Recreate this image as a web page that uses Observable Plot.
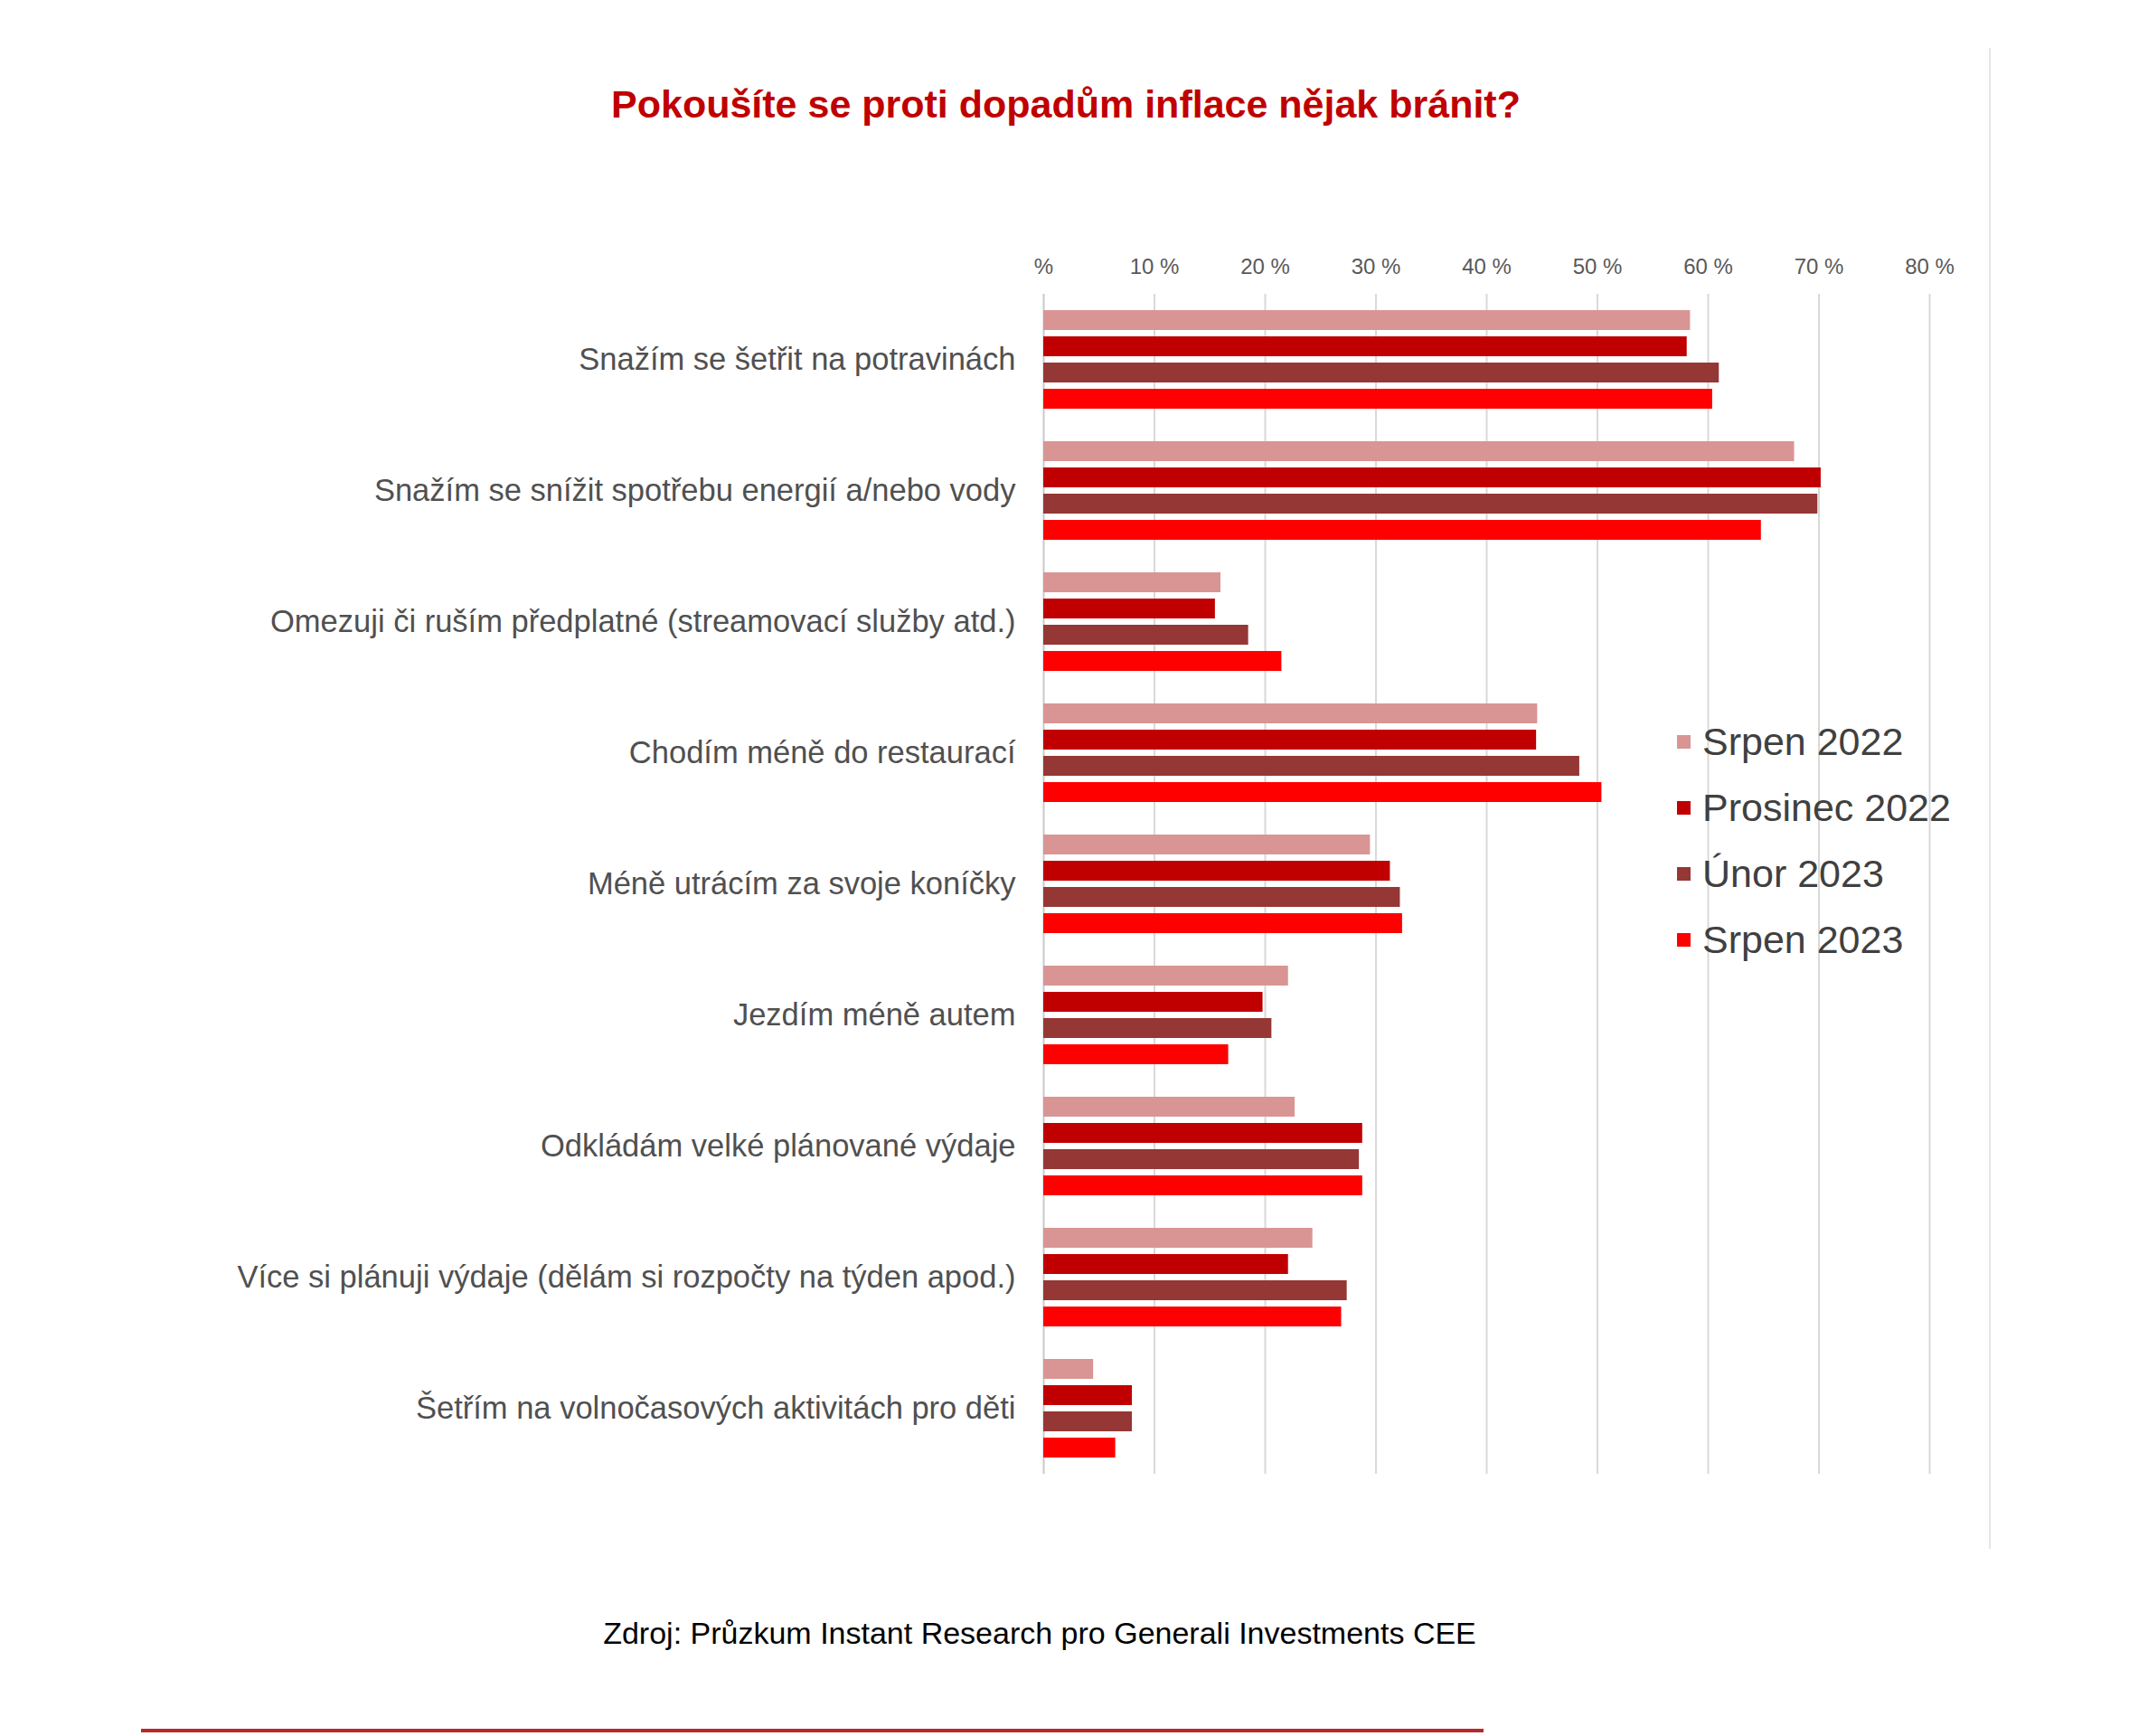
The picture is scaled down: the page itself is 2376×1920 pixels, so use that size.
<!DOCTYPE html>
<html>
<head>
<meta charset="utf-8">
<script src="https://cdn.jsdelivr.net/npm/d3@7"></script>
<script src="https://cdn.jsdelivr.net/npm/@observablehq/plot@0.6"></script>
<style>
  html, body { margin: 0; padding: 0; background: #fff; }
  body { width: 2376px; height: 1920px; position: relative; overflow: hidden; font-family: "Liberation Sans", Arial, sans-serif; }
  #title { position: absolute; left: 0; width: 2358px; top: 91px; text-align: center; font-size: 43px; font-weight: bold; color: #C00000; }
  #chart { position: absolute; left: 0; top: 260px; }
  #legend { position: absolute; left: 1855px; top: 784px; }
  .row { height: 73px; display: flex; align-items: center; font-size: 43px; color: #404040; }
  .sw { width: 15px; height: 15px; margin-right: 13px; }
  #caption { position: absolute; left: 0; width: 2300px; top: 1787px; text-align: center; font-size: 34px; color: #000; }
  #rline { position: absolute; left: 2200px; top: 53px; width: 2px; height: 1660px; background: #e6e6e6; }
  #bline { position: absolute; left: 156px; top: 1912px; width: 1485px; height: 4px; background: #B8282A; }
</style>
</head>
<body>
<div id="title">Pokoušíte se proti dopadům inflace nějak bránit?</div>
<div id="rline"></div>
<div id="chart"></div>
<div id="legend"></div>
<div id="caption">Zdroj: Průzkum Instant Research pro Generali Investments CEE</div>
<div id="bline"></div>
<script>
const categories = [
  "Snažím se šetřit na potravinách",
  "Snažím se snížit spotřebu energií a/nebo vody",
  "Omezuji či ruším předplatné (streamovací služby atd.)",
  "Chodím méně do restaurací",
  "Méně utrácím za svoje koníčky",
  "Jezdím méně autem",
  "Odkládám velké plánované výdaje",
  "Více si plánuji výdaje (dělám si rozpočty na týden apod.)",
  "Šetřím na volnočasových aktivitách pro děti"
];
const seriesNames = ["Srpen 2022", "Prosinec 2022", "Únor 2023", "Srpen 2023"];
const seriesColors = ["#D99594", "#C00000", "#953735", "#FF0000"];
const srpen2022   = [58.4, 67.8, 16.0, 44.6, 29.5, 22.1, 22.7, 24.3, 4.5];
const prosinec2022 = [58.1, 70.2, 15.5, 44.5, 31.3, 19.8, 28.8, 22.1, 8.0];
const unor2023    = [61.0, 69.9, 18.5, 48.4, 32.2, 20.6, 28.5, 27.4, 8.0];
const srpen2023   = [60.4, 64.8, 21.5, 50.4, 32.4, 16.7, 28.8, 26.9, 6.5];
const xTicks = [0, 10, 20, 30, 40, 50, 60, 70, 80];

const seriesValues = [srpen2022, prosinec2022, unor2023, srpen2023];
const data = [];
categories.forEach((c, i) => {
  seriesNames.forEach((s, j) => data.push({category: c, series: s, value: seriesValues[j][i]}));
});

const chart = Plot.plot({
  width: 2200,
  height: 1392,
  marginLeft: 1154,
  marginTop: 62,
  marginRight: 66,
  marginBottom: 20,
  style: {fontFamily: "'Liberation Sans', Arial, sans-serif", background: "transparent"},
  x: {domain: [0, 80]},
  fy: {domain: categories, padding: 0, label: null},
  y: {domain: seriesNames, paddingInner: 0.25, paddingOuter: 0.62, axis: null},
  color: {domain: seriesNames, range: seriesColors},
  marks: [
    Plot.ruleX(xTicks.slice(1), {stroke: "#d9d9d9", strokeWidth: 2}),
    Plot.ruleX([0], {stroke: "#c8c8c8", strokeWidth: 2}),
    Plot.barX(data, {x: "value", y: "series", fy: "category", fill: "series"}),
    Plot.axisX(xTicks, {anchor: "top", tickSize: 0, tickPadding: 23, fontSize: 24, fill: "#595959",
      tickFormat: d => d === 0 ? "%" : d + " %", label: null}),
    Plot.axisFy({anchor: "left", tickSize: 0, tickPadding: 31, fontSize: 34.5, fill: "#505050", label: null})
  ]
});
document.getElementById("chart").appendChild(chart);

const legend = document.getElementById("legend");
seriesNames.forEach((s, i) => {
  const row = document.createElement("div");
  row.className = "row";
  const sw = document.createElement("div");
  sw.className = "sw";
  sw.style.background = seriesColors[i];
  const t = document.createElement("span");
  t.textContent = s;
  row.appendChild(sw);
  row.appendChild(t);
  legend.appendChild(row);
});
</script>
</body>
</html>
